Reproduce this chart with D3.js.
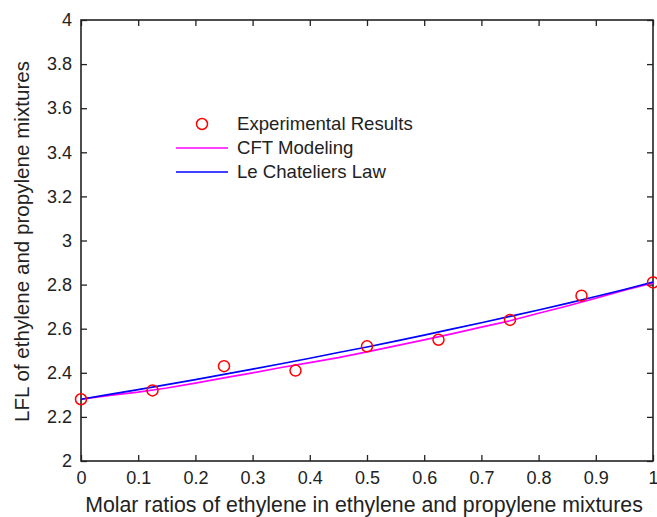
<!DOCTYPE html>
<html>
<head>
<meta charset="utf-8">
<script src="https://cdn.jsdelivr.net/npm/d3@7"></script>
<style>
  html, body { margin: 0; padding: 0; background: #fff; }
  svg { display: block; font-family: "Liberation Sans", Arial, Helvetica, sans-serif; }
</style>
</head>
<body>
<svg id="chart" width="657" height="517"></svg>
<script>
// Experimental LFL measurements
const expX = [0, 0.125, 0.25, 0.375, 0.5, 0.625, 0.75, 0.875, 1];
const expY = [2.28, 2.32, 2.43, 2.41, 2.52, 2.55, 2.64, 2.75, 2.81];

// Model curves sampled along the molar ratio
const curveX = [0, 0.05, 0.1, 0.15, 0.2, 0.25, 0.3, 0.35, 0.4, 0.45, 0.5,
                0.55, 0.6, 0.65, 0.7, 0.75, 0.8, 0.85, 0.9, 0.95, 1];
const cftY = [2.28, 2.298, 2.312, 2.331, 2.353, 2.377, 2.400, 2.424, 2.446, 2.469, 2.495,
              2.522, 2.549, 2.578, 2.607, 2.636, 2.670, 2.703, 2.738, 2.775, 2.808];
const lcY  = [2.28, 2.302, 2.324, 2.346, 2.369, 2.393, 2.417, 2.441, 2.466, 2.492, 2.517,
              2.544, 2.571, 2.599, 2.627, 2.656, 2.685, 2.715, 2.746, 2.778, 2.812];

const xTicks = [0, 0.1, 0.2, 0.3, 0.4, 0.5, 0.6, 0.7, 0.8, 0.9, 1];
const yTicks = [2, 2.2, 2.4, 2.6, 2.8, 3, 3.2, 3.4, 3.6, 3.8, 4];

const legendLabels = ["Experimental Results", "CFT Modeling", "Le Chateliers Law"];
const xTitle = "Molar ratios of ethylene in ethylene and propylene mixtures";
const yTitle = "LFL of ethylene and propylene mixtures";

const svg = d3.select("#chart");
const plot = { left: 81, right: 653, top: 20, bottom: 461 };

const x = d3.scaleLinear().domain([0, 1]).range([plot.left, plot.right]);
const y = d3.scaleLinear().domain([2, 4]).range([plot.bottom, plot.top]);

const ink = "#222";
const tickLen = 6;

// Axes with inward ticks on all four sides
function styleAxis(g) {
  g.selectAll("path").remove();
  g.selectAll("line").attr("stroke", ink).attr("stroke-width", 1.3);
  g.selectAll("text").attr("fill", ink).style("font-size", "18px");
}

svg.append("g")
  .attr("transform", `translate(0,${plot.bottom})`)
  .call(d3.axisBottom(x).tickValues(xTicks).tickFormat(d3.format("")).tickSizeInner(-tickLen).tickSizeOuter(0).tickPadding(10))
  .call(styleAxis);

svg.append("g")
  .attr("transform", `translate(0,${plot.top})`)
  .call(d3.axisTop(x).tickValues(xTicks).tickFormat("").tickSizeInner(-tickLen).tickSizeOuter(0))
  .call(styleAxis);

svg.append("g")
  .attr("transform", `translate(${plot.left},0)`)
  .call(d3.axisLeft(y).tickValues(yTicks).tickFormat(d3.format("")).tickSizeInner(-tickLen).tickSizeOuter(0).tickPadding(9))
  .call(styleAxis);

svg.append("g")
  .attr("transform", `translate(${plot.right},0)`)
  .call(d3.axisRight(y).tickValues(yTicks).tickFormat("").tickSizeInner(-tickLen).tickSizeOuter(0))
  .call(styleAxis);

// Plot frame
svg.append("rect")
  .attr("x", plot.left).attr("y", plot.top)
  .attr("width", plot.right - plot.left).attr("height", plot.bottom - plot.top)
  .attr("fill", "none").attr("stroke", ink).attr("stroke-width", 1.6);

// Curves
const line = d3.line().x(d => x(d[0])).y(d => y(d[1]));
svg.append("path")
  .datum(curveX.map((v, i) => [v, cftY[i]]))
  .attr("d", line).attr("fill", "none")
  .attr("stroke", "#ff00ff").attr("stroke-width", 1.7);
svg.append("path")
  .datum(curveX.map((v, i) => [v, lcY[i]]))
  .attr("d", line).attr("fill", "none")
  .attr("stroke", "#0000ff").attr("stroke-width", 1.7);

// Experimental points
svg.append("g").selectAll("circle")
  .data(expX.map((v, i) => [v, expY[i]]))
  .join("circle")
  .attr("cx", d => x(d[0])).attr("cy", d => y(d[1]))
  .attr("r", 5.5)
  .attr("fill", "none").attr("stroke", "#ff0000").attr("stroke-width", 1.5);

// Legend
const lg = svg.append("g");
lg.append("circle").attr("cx", 202).attr("cy", 124).attr("r", 5.5)
  .attr("fill", "none").attr("stroke", "#ff0000").attr("stroke-width", 1.5);
lg.append("line").attr("x1", 176).attr("x2", 228).attr("y1", 148).attr("y2", 148)
  .attr("stroke", "#ff00ff").attr("stroke-width", 1.7);
lg.append("line").attr("x1", 176).attr("x2", 228).attr("y1", 172).attr("y2", 172)
  .attr("stroke", "#0000ff").attr("stroke-width", 1.7);
lg.selectAll("text")
  .data(legendLabels)
  .join("text")
  .attr("x", 237)
  .attr("y", (d, i) => 130 + i * 24)
  .attr("fill", ink)
  .style("font-size", "18.6px")
  .text(d => d);

// Axis titles
svg.append("text")
  .attr("x", (plot.left + plot.right) / 2 - 3)
  .attr("y", 512)
  .attr("text-anchor", "middle")
  .attr("fill", ink)
  .style("font-size", "21.3px")
  .text(xTitle);

svg.append("text")
  .attr("transform", `translate(29,${(plot.top + plot.bottom) / 2 + 1}) rotate(-90)`)
  .attr("text-anchor", "middle")
  .attr("fill", ink)
  .style("font-size", "20.6px")
  .text(yTitle);
</script>
</body>
</html>
